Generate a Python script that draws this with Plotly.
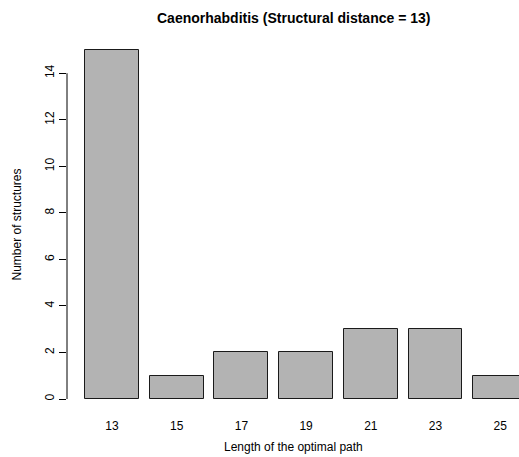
import plotly.graph_objects as go

# Path lengths and how many structures have each one
path_lengths = ["13", "15", "17", "19", "21", "23", "25"]
structure_counts = [15, 1, 2, 2, 3, 3, 1]
y_ticks = [0, 2, 4, 6, 8, 10, 12, 14]

positions = list(range(len(path_lengths)))

W, H = 519, 457
ML, MR, MT, MB = 67, 0, 35.5, 44
FONT = "Liberation Sans, Arial, Helvetica, sans-serif"

fig = go.Figure()
fig.add_trace(go.Bar(
    x=positions,
    y=structure_counts,
    width=1 / 1.2,
    marker=dict(color="#B3B3B3", line=dict(color="#1a1a1a", width=1)),
    hoverinfo="x+y",
))

fig.update_layout(
    width=W, height=H,
    margin=dict(l=ML, r=MR, t=MT, b=MB, pad=0),
    paper_bgcolor="white", plot_bgcolor="white",
    showlegend=False,
    bargap=0,
    font=dict(family=FONT, size=12, color="black"),
    xaxis=dict(
        range=[-0.6955, 6.29],
        tickmode="array", tickvals=positions, ticktext=path_lengths,
        showgrid=False, zeroline=False, showline=False, ticks="",
        tickfont=dict(size=12), ticklabelstandoff=4,
    ),
    yaxis=dict(
        range=[-0.6, 15.6],
        tickmode="array", tickvals=y_ticks,
        showgrid=False, zeroline=False, showline=False,
        ticks="outside", ticklen=7, tickwidth=1, tickcolor="black",
        tickangle=-90, tickfont=dict(size=12),
    ),
    annotations=[
        dict(text="<b>Caenorhabditis (Structural distance = 13)</b>",
             xref="paper", yref="paper", x=0.5, y=1 + (MT - 17) / (H - MT - MB),
             xanchor="center", yanchor="middle", showarrow=False,
             font=dict(size=14, family=FONT)),
        dict(text="Length of the optimal path",
             xref="paper", yref="paper", x=0.5, y=-(456 - (H - MB)) / (H - MT - MB),
             xanchor="center", yanchor="bottom", showarrow=False,
             font=dict(size=12, family=FONT)),
        dict(text="Number of structures",
             xref="paper", yref="paper", x=-(ML - 16) / (W - ML - MR), y=0.5,
             xanchor="center", yanchor="middle", showarrow=False, textangle=-90,
             font=dict(size=12, family=FONT)),
    ],
    shapes=[
        dict(type="line", xref="paper", yref="y", x0=0, x1=0,
             y0=y_ticks[0], y1=y_ticks[-1], line=dict(color="black", width=1)),
    ],
)

fig.write_html("out.html")
